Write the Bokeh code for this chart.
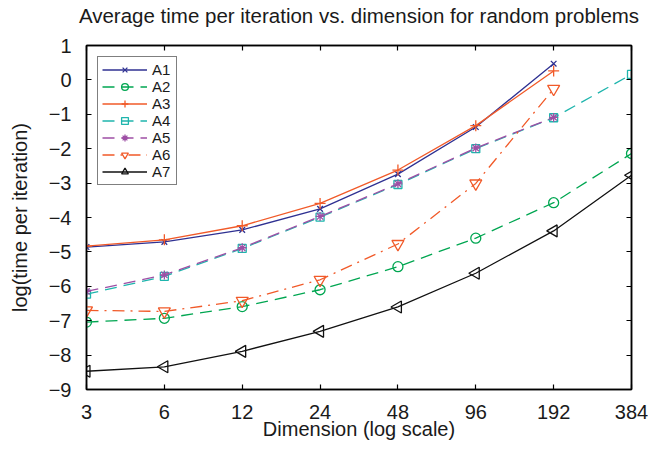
import math
from bokeh.plotting import figure
from bokeh.models import FixedTicker, LinearAxis, LogAxis, Legend, LegendItem, Range1d
from bokeh.embed import file_html
from bokeh.resources import INLINE

# ---- data ----
dims = [3, 6, 12, 24, 48, 96, 192, 384]
a1 = [-4.86, -4.71, -4.36, -3.75, -2.74, -1.37, 0.47]
a2 = [-7.04, -6.93, -6.59, -6.10, -5.43, -4.60, -3.57, -2.14]
a3 = [-4.83, -4.65, -4.24, -3.59, -2.62, -1.33, 0.26]
a4 = [-6.23, -5.71, -4.90, -3.99, -3.04, -2.00, -1.10, 0.16]
a5 = [-6.15, -5.67, -4.88, -3.97, -3.02, -1.98, -1.09]
a6 = [-6.70, -6.73, -6.42, -5.81, -4.77, -3.01, -0.26]
a7 = [-8.47, -8.34, -7.89, -7.31, -6.60, -5.62, -4.39, -2.77]
y_ticks = [-9, -8, -7, -6, -5, -4, -3, -2, -1, 0, 1]
x_labels = ["3", "6", "12", "24", "48", "96", "192", "384"]
title_text = "Average time per iteration vs. dimension for random problems"

FONT = "Liberation Sans"
TXT = "#1a1a1a"

p = figure(width=648, height=444, x_axis_type="log",
           x_range=Range1d(3, 384), y_range=Range1d(-9, 1),
           output_backend="svg", toolbar_location=None,
           min_border_left=86, min_border_right=17,
           min_border_top=44, min_border_bottom=55)

p.xgrid.visible = False
p.ygrid.visible = False
p.outline_line_color = "black"
p.outline_line_width = 1.5
p.background_fill_color = "white"

def style_axis(ax, labels=True):
    ax.axis_line_color = "black"
    ax.axis_line_width = 1.5
    ax.major_tick_in = 5
    ax.major_tick_out = 0
    ax.minor_tick_line_color = None
    ax.major_tick_line_color = "black"
    ax.major_tick_line_width = 1.2
    ax.major_label_text_font = FONT
    ax.major_label_text_font_size = "20px"
    ax.major_label_text_color = TXT
    ax.axis_label_text_font = FONT
    ax.axis_label_text_font_size = "20px"
    ax.axis_label_text_font_style = "normal"
    ax.axis_label_text_color = TXT
    if not labels:
        ax.major_label_text_color = None
        ax.major_label_text_alpha = 0
        ax.major_label_text_font_size = "1px"
        ax.major_label_standoff = 0

xa = p.xaxis[0]
xa.ticker = FixedTicker(ticks=dims)
xa.major_label_overrides = {d: l for d, l in zip(dims, x_labels)}
xa.axis_label = "Dimension (log scale)"
style_axis(xa)
xa.major_label_standoff = 15
xa.axis_label_standoff = -4

ya = p.yaxis[0]
ya.ticker = FixedTicker(ticks=y_ticks)
ya.major_label_overrides = {t: (str(t).replace("-", "\u2212")) for t in y_ticks}
ya.axis_label = "log(time per iteration)"
style_axis(ya)
ya.major_label_standoff = 15
ya.axis_label_standoff = 15

# top axis: inward ticks only; its axis label carries the chart title
top = LogAxis(ticker=FixedTicker(ticks=dims))
style_axis(top, labels=False)
top.axis_label = title_text
top.axis_label_text_font_size = "20.5px"
top.axis_label_standoff = 19
p.add_layout(top, "above")
right = LinearAxis(ticker=FixedTicker(ticks=y_ticks))
style_axis(right, labels=False)
p.add_layout(right, "right")

series = [
    ("A1", a1, "#2f3192", "solid", "x", 8, 0.0),
    ("A2", a2, "#00a651", "12 7", "circle", 10, 0.0),
    ("A3", a3, "#f15a29", "solid", "cross", 11, 0.0),
    ("A4", a4, "#1fb5ad", "12 7", "square", 8, 0.0),
    ("A5", a5, "#9e4fa5", "12 7", "asterisk", 9, 0.0),
    ("A6", a6, "#f15a29", "12 6 2 6", "inverted_triangle", 12, 0.0),
    ("A7", a7, "#111111", "solid", "triangle", 12, math.pi / 2),
]

items = []
for name, ys, color, dash, marker, size, ang in series:
    xs = dims[:len(ys)]
    ln = p.line(xs, ys, line_color=color, line_width=1.3, line_dash=dash)
    sc = p.scatter(xs, ys, marker=marker, size=size, angle=ang,
                   line_color=color, fill_color=None, line_width=1.3)
    items.append(LegendItem(label=name, renderers=[ln, sc]))

legend = Legend(items=items, location="top_left")
legend.margin = 11
legend.padding = 4
legend.spacing = 0
legend.label_height = 17
legend.glyph_height = 17
legend.glyph_width = 45
legend.label_standoff = 5
legend.label_text_font = FONT
legend.label_text_font_size = "15px"
legend.label_text_color = TXT
legend.border_line_color = "black"
legend.border_line_width = 1.2
legend.background_fill_color = "white"
legend.background_fill_alpha = 1.0
p.add_layout(legend, "center")

open("out.html", "w").write(file_html(p, INLINE))
